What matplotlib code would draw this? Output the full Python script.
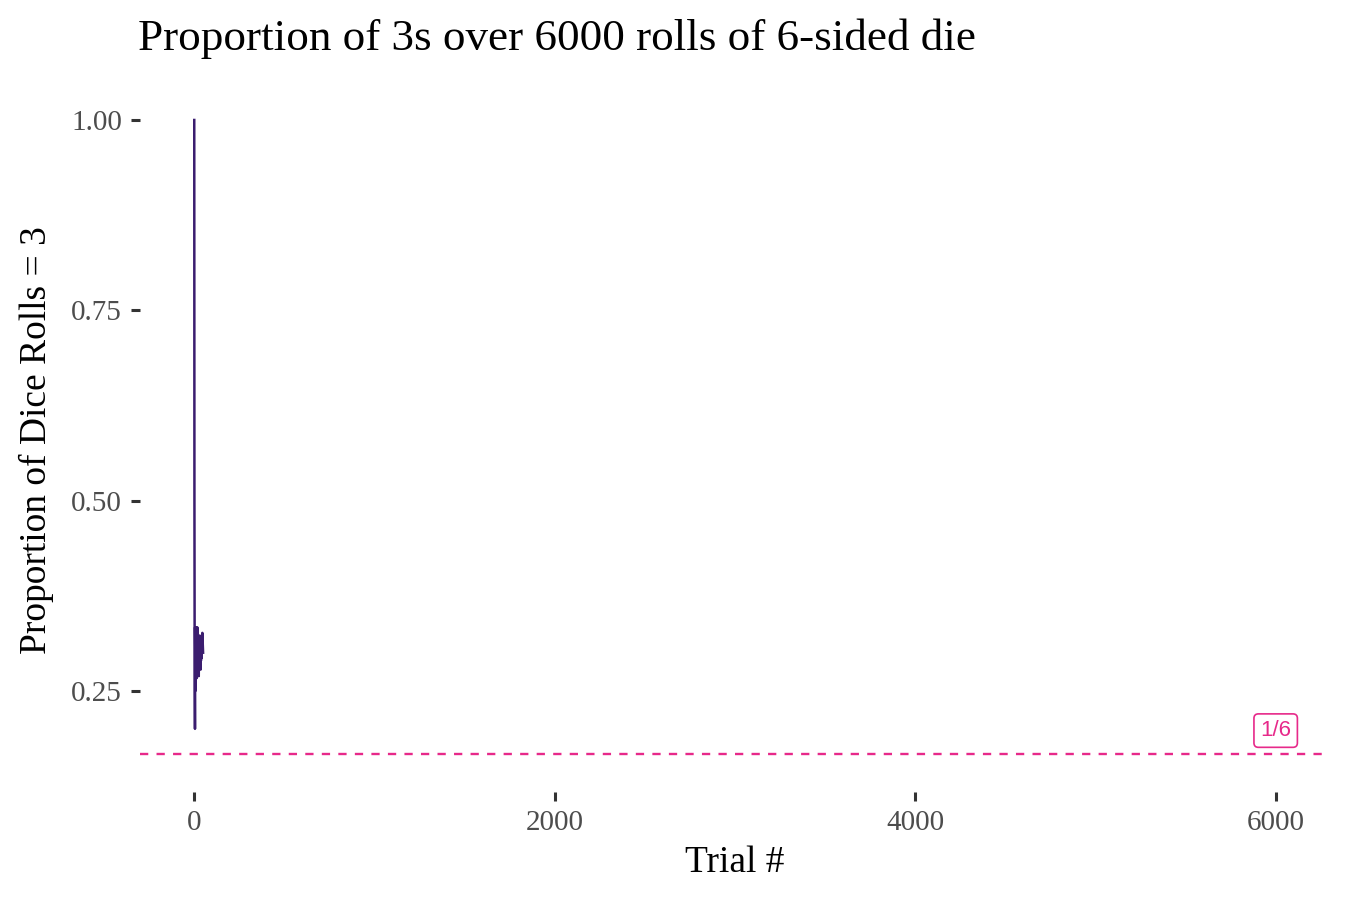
import numpy as np
import matplotlib
matplotlib.use("Agg")
import matplotlib.pyplot as plt

# die rolls for the first trials shown in the frame
rolls = [3, 5, 1, 6, 2, 3, 4, 1, 3, 5,
         2, 3, 6, 1, 4, 3, 2, 3, 5, 1,
         6, 4, 3, 2, 1, 5, 3, 6, 3, 4,
         3, 2, 1, 5, 6, 4, 3, 2, 3, 1,
         5, 3, 6, 3, 2, 3, 4, 1, 5, 6]
target = 3
expected = 1 / 6
expected_label = "1/6"
x_ticks = [0, 2000, 4000, 6000]
y_ticks = [0.25, 0.50, 0.75, 1.00]

trial = np.arange(1, len(rolls) + 1)
prop = np.cumsum(np.array(rolls) == target) / trial

plt.rcParams['font.family'] = ['Liberation Serif', 'DejaVu Serif']

fig = plt.figure(figsize=(13.5, 9), dpi=100)
ax = fig.add_axes([0.1037, 0.12, 0.8813, 0.7822])

ax.plot(trial, prop, color='#3b1d6f', linewidth=1.8)
ax.axhline(expected, color='#e7298a', linestyle=(0, (3.5, 3.5)), linewidth=1.7)
ax.text(6000, expected + 0.031, expected_label, family=['Liberation Sans', 'DejaVu Sans'],
        fontsize=16, color='#e7298a', ha='center', va='center',
        bbox=dict(boxstyle='round,pad=0.28,rounding_size=0.2', fc='white', ec='#e7298a', lw=1.2))

ax.set_xlim(-300, 6300)
ax.set_ylim(0.117, 1.042)
ax.set_xticks(x_ticks)
ax.set_xticklabels([str(v) for v in x_ticks])
ax.set_yticks(y_ticks)
ax.set_yticklabels([f"{v:.2f}" for v in y_ticks])
for s in ax.spines.values():
    s.set_visible(False)
ax.tick_params(axis='both', length=6.5, width=2.2, color='#333333',
               labelcolor='#4d4d4d', labelsize=21, pad=6.5)

ax.set_xlabel("Trial #", fontsize=27, color='black', labelpad=7)
ax.set_ylabel("Proportion of Dice Rolls = 3", fontsize=27, color='black', labelpad=12)
fig.text(0.102, 0.957, "Proportion of 3s over 6000 rolls of 6-sided die",
         fontsize=32.5, va='center', ha='left')

fig.savefig("out.png", dpi=100)
